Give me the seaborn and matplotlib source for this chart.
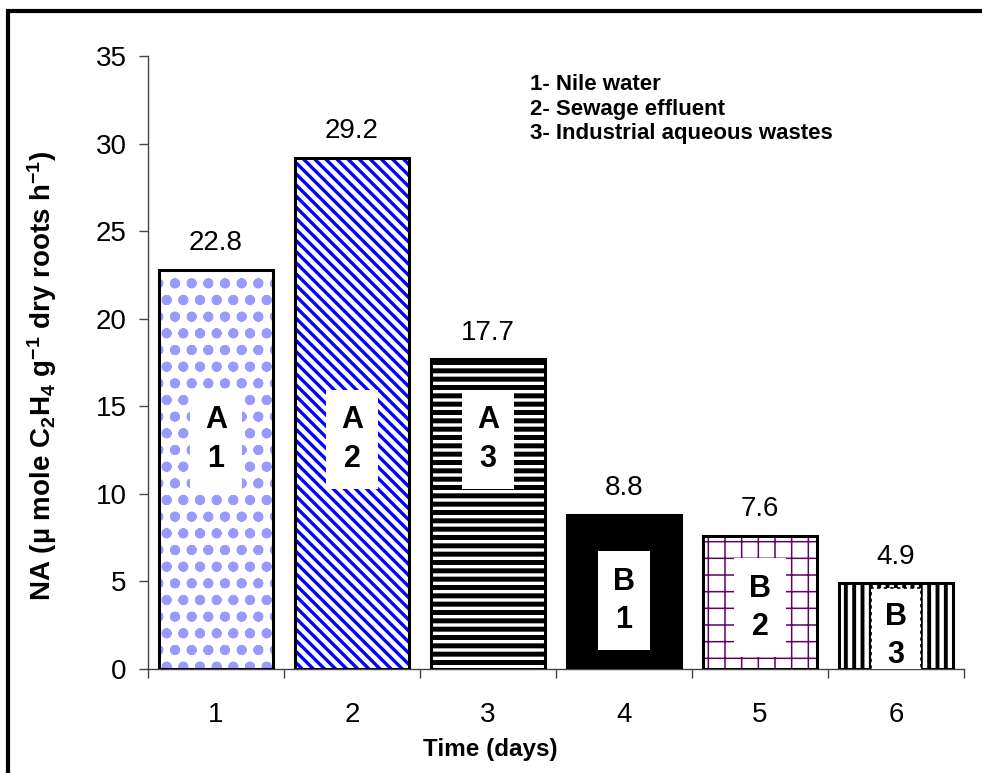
import matplotlib
matplotlib.use("Agg")
import matplotlib.pyplot as plt
import numpy as np
import pandas as pd
import seaborn as sns
from matplotlib.patches import Rectangle

# Nitrogenase activity per day
days = ["1", "2", "3", "4", "5", "6"]
na_values = [22.8, 29.2, 17.7, 8.8, 7.6, 4.9]
value_labels = ["22.8", "29.2", "17.7", "8.8", "7.6", "4.9"]

# group / water source tag written inside each bar
bar_tags = ["A\n1", "A\n2", "A\n3", "B\n1", "B\n2", "B\n3"]
tag_levels = [13.1, 13.1, 13.1, 3.9, 3.5, 1.9]

sources = ["1- Nile water", "2- Sewage effluent", "3- Industrial aqueous wastes"]
y_ticks = [0, 5, 10, 15, 20, 25, 30, 35]

# fill styles of the six bars
face_colors = ["white", "white", "white", "black", "white", "white"]
hatch_colors = ["#9999FF", "#0000FF", "#000000", "#000000", "#660066", "#000000"]
hatches = ["o.", "\\\\\\", "--", "", "+", "||"]
hatch_widths = [2.5, 2.4, 3.6, 1.0, 1.1, 2.8]

sns.set_theme(style="white")
plt.rcParams["font.family"] = ["Liberation Sans", "DejaVu Sans"]
plt.rcParams["mathtext.fontset"] = "custom"
plt.rcParams["mathtext.rm"] = "Liberation Sans:bold"
plt.rcParams["mathtext.default"] = "rm"
for key in ("text.color", "axes.labelcolor", "xtick.labelcolor", "ytick.labelcolor"):
    plt.rcParams[key] = "black"

fig = plt.figure(figsize=(9.82, 7.73), dpi=100)
fig.patch.set_facecolor("white")
ax = fig.add_axes([148 / 982, 1 - 669 / 773, 816 / 982, 613 / 773])

df = pd.DataFrame({"day": days, "na": na_values})
sns.barplot(data=df, x="day", y="na", ax=ax, width=0.84, color="white",
            saturation=1, errorbar=None)

bars = sorted(ax.patches, key=lambda p: p.get_x())
for i, p in enumerate(bars):
    p.set_facecolor(face_colors[i])
    p.set_edgecolor(hatch_colors[i])
    p.set_linewidth(0)
    if hatches[i]:
        p.set_hatch(hatches[i])
        if hasattr(p, "set_hatch_linewidth"):
            p.set_hatch_linewidth(hatch_widths[i])
    # black outline on top of the pattern
    ax.add_patch(Rectangle((p.get_x(), 0), p.get_width(), p.get_height(),
                           fill=False, edgecolor="black", linewidth=2.2,
                           zorder=3))
    cx = p.get_x() + p.get_width() / 2
    ax.annotate(value_labels[i], xy=(cx, p.get_height()), xytext=(0, 14),
                textcoords="offset points", ha="center", va="baseline",
                fontsize=20, color="black")
    box = dict(boxstyle="square,pad=0.5", facecolor="white", edgecolor="none")
    if i == 5:
        box = dict(boxstyle="square,pad=0.45", facecolor="white",
                   edgecolor="black", linestyle=(0, (2, 2)), linewidth=1.2)
    ax.text(cx, tag_levels[i], bar_tags[i], ha="center", va="center",
            fontsize=22, fontweight="bold", linespacing=1.36, zorder=4,
            color="black", bbox=box, clip_on=True)

ax.set_xlim(-0.5, 5.5)
ax.set_ylim(0, 35)
ax.set_yticks(y_ticks)
ax.set_yticklabels([str(v) for v in y_ticks], fontsize=20)
ax.tick_params(axis="y", which="major", direction="out", length=6.5, width=1,
               color="#444444", pad=9, left=True)
ax.set_xticks(np.arange(len(days)))
ax.set_xticklabels(days, fontsize=20)
ax.set_xticks(np.arange(len(days) + 1) - 0.5, minor=True)
ax.tick_params(axis="x", which="major", length=0, pad=24)
ax.tick_params(axis="x", which="minor", direction="out", length=6.5, width=1,
               color="#444444", bottom=True)

for side in ("top", "right"):
    ax.spines[side].set_visible(False)
for side in ("left", "bottom"):
    ax.spines[side].set_color("#444444")
    ax.spines[side].set_linewidth(1.0)

ax.set_xlabel("Time (days)", fontsize=17.5, fontweight="bold")
ax.xaxis.set_label_coords(0.419, -0.113)
ax.set_ylabel("NA (\u00b5 mole C$_2$H$_4$ g$^{-1}$ dry roots h$^{-1}$)",
              fontsize=20, fontweight="bold")
ax.yaxis.set_label_coords(-0.109, 0.478)

ax.text(0.468, 0.970, "\n".join(sources), transform=ax.transAxes,
        ha="left", va="top", fontsize=16, fontweight="bold",
        linespacing=1.2)

# outer frame around the whole chart
fig.patches.append(Rectangle((8 / 982, -0.1), 1.2, 1.1 - 11 / 773,
                             transform=fig.transFigure, fill=False,
                             edgecolor="black", linewidth=3))

fig.savefig("out.png", dpi=100, facecolor="white")
